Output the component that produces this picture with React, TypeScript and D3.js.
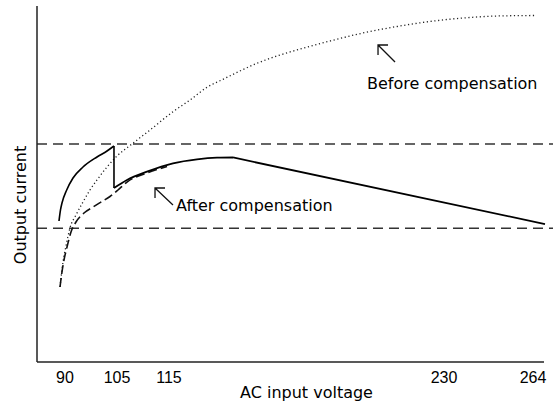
import React from 'react';
import * as d3 from 'd3';

// ---- Data (AC input voltage [V], relative output current) ----
const voltageTicks = [90, 105, 115, 230, 264];
const limitLevels = [61.4, 37.7];

// Before compensation (dotted)
const beforeComp: [number, number][] = [
  [88.56, 21.13], [89.42, 28.17], [90.29, 32.68], [91.44, 37.75], [93.17, 41.41],
  [95.19, 45.07], [97.21, 48.45], [99.23, 51.27], [102.12, 54.93], [105.0, 58.03],
  [107.88, 61.41], [111.35, 65.35], [116.67, 70.51], [123.78, 73.8], [130.89, 77.38],
  [137.58, 79.63], [151.8, 84.14], [161.42, 86.48], [171.04, 88.37], [182.33, 90.42],
  [196.13, 92.68], [210.35, 94.51], [224.15, 95.92], [237.26, 96.9], [250.25, 97.46],
  [264.77, 97.61],
];

// After compensation, dashed variant
const afterDashed: [number, number][] = [
  [88.56, 21.13], [89.13, 25.35], [89.71, 28.73], [90.58, 32.39], [91.73, 36.62],
  [93.17, 39.44], [95.48, 41.97], [98.08, 43.66], [100.67, 45.21], [102.98, 46.62],
  [105.19, 48.45], [106.92, 50.7], [110.77, 53.24], [114.62, 55.07],
];

// Solid: low-range arc up to the switch point
const lowArc: [number, number][] = [
  [88.27, 39.72], [88.7, 42.82], [89.13, 44.79], [90.49, 48.45], [92.31, 51.83],
  [95.19, 54.93], [99.23, 57.75], [102.12, 59.44], [104.13, 60.85],
];
// Solid: drop at switch point
const switchDrop: [number, number][] = [[104.13, 60.85], [104.13, 49.01]];
// Solid: compensated rise to plateau
const afterRise: [number, number][] = [
  [104.13, 49.01], [106.92, 51.27], [110.77, 53.61], [116.67, 55.97], [126.71, 57.1],
  [135.07, 57.55], [141.76, 57.61],
];
// Solid: linear decline at high line
const afterDecline: [number, number][] = [[141.76, 57.61], [268.58, 38.87]];

// Annotations: [arrow corner, arrow tail, label anchor]
const annotations = [
  { text: 'Before compensation', corner: [202.41, 89.3], tail: [209.52, 84.51], label: [197.8, 76.9] },
  { text: 'After compensation', corner: [112.31, 49.01], tail: [116.67, 44.23], label: [117.93, 42.54] },
];

const W = 556;
const H = 408;
const axisLeft = 37;
const axisBottom = 362;
const axisTop = 6;
const axisRight = 544;
const refRight = 553;

const x = d3.scaleLinear().domain(voltageTicks).range([65, 117, 169, 444, 533]);
const y = d3.scaleLinear().domain([0, 100]).range([axisBottom, 7]);

const smooth = d3.line<[number, number]>().x(d => x(d[0])).y(d => y(d[1])).curve(d3.curveMonotoneX);
const straight = d3.line<[number, number]>().x(d => x(d[0])).y(d => y(d[1]));

const textFont = '"DejaVu Sans", sans-serif';
const tickFont = '"Liberation Sans", Arial, sans-serif';

export default function App() {
  return (
    <svg width={W} height={H} style={{ position: 'absolute', left: 0, top: 0, background: '#fff' }}>
      <rect width={W} height={H} fill="#fff" />
      {/* limit lines */}
      {limitLevels.map((v, i) => (
        <line key={i} x1={axisLeft} x2={refRight} y1={y(v)} y2={y(v)}
          stroke="#333" strokeWidth={1.5} strokeDasharray="10 6" />
      ))}
      {/* axes */}
      <line x1={axisLeft} x2={axisLeft} y1={axisTop} y2={axisBottom} stroke="#222" strokeWidth={1.5} />
      <line x1={axisLeft} x2={axisRight} y1={axisBottom} y2={axisBottom} stroke="#222" strokeWidth={1.5} />
      {/* tick labels */}
      {voltageTicks.map(t => (
        <text key={t} x={x(t)} y={383} textAnchor="middle" fontFamily={tickFont} fontSize={16} fill="#000">{t}</text>
      ))}
      {/* curves */}
      <path d={smooth(beforeComp) || ''} fill="none" stroke="#222" strokeWidth={1.3} strokeDasharray="1.2 2.6" />
      <path d={smooth(afterDashed) || ''} fill="none" stroke="#111" strokeWidth={1.6} strokeDasharray="9 4" />
      <path d={smooth(lowArc) || ''} fill="none" stroke="#000" strokeWidth={1.6} />
      <path d={straight(switchDrop) || ''} fill="none" stroke="#000" strokeWidth={1.6} />
      <path d={smooth(afterRise) || ''} fill="none" stroke="#000" strokeWidth={1.8} />
      <path d={straight(afterDecline) || ''} fill="none" stroke="#000" strokeWidth={1.8} />
      {/* annotations */}
      {annotations.map((a, i) => {
        const cx = x(a.corner[0]);
        const cy = y(a.corner[1]);
        return (
          <g key={i}>
            <path d={`M${cx + 10},${cy}L${cx},${cy}L${cx},${cy + 10}M${cx},${cy}L${x(a.tail[0])},${y(a.tail[1])}`}
              fill="none" stroke="#111" strokeWidth={1.3} />
            <text x={x(a.label[0])} y={y(a.label[1])} fontFamily={textFont} fontSize={16} fill="#000">{a.text}</text>
          </g>
        );
      })}
      {/* axis titles */}
      <text x={306.5} y={398} textAnchor="middle" fontFamily={textFont} fontSize={16} fill="#000">AC input voltage</text>
      <text transform={`translate(26,205) rotate(-90)`} textAnchor="middle" fontFamily={textFont} fontSize={16} fill="#000">Output current</text>
    </svg>
  );
}
